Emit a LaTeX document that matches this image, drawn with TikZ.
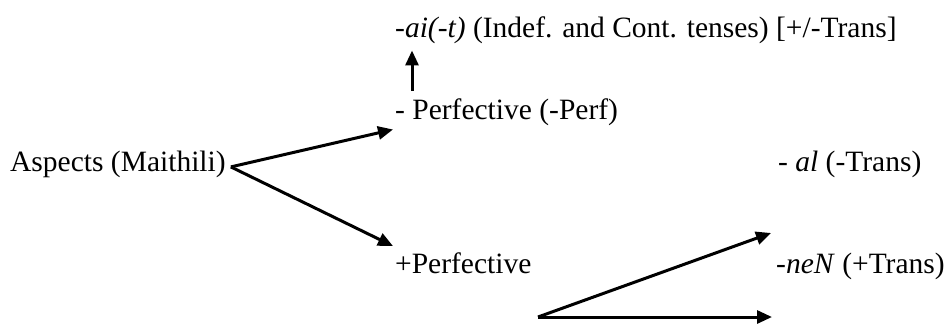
\documentclass[tikz,border=0pt]{standalone}
\usepackage{fontspec}
\setmainfont{Liberation Serif}
\usepackage{tikz}
\usetikzlibrary{arrows.meta}

\begin{document}
\begin{tikzpicture}[x=1bp,y=-1bp,
    lbl/.style={anchor=base west, inner sep=2bp, font=\fontsize{29.5bp}{35bp}\selectfont},
    arr/.style={line width=3bp, -{Triangle[length=15bp,width=13bp]}}]
  \useasboundingbox (0,0) rectangle (947,323);

  % Aspects and the two branches
  \node[lbl] (asp) at (8,171) {Aspects (Maithili)};
  \node[lbl] (perf) at (393,119) {- Perfective (-Perf)};
  \node[lbl] (plusperf) at (393,273) {+Perfective};
  \node[lbl] (ait) at (393,37) {\textit{-ai(-t)} (Indef. and Cont. tenses) [+/-Trans]};

  % Transitivity markers
  \node[lbl] (al) at (776,171) {- \textit{al} (-Trans)};
  \node[lbl] (nen) at (774,273) {\textit{-neN} (+Trans)};

  \draw[arr] ([xshift=3bp,yshift=-3bp]asp.east) -- ([yshift=-2bp]perf.south west);
  \draw[arr] ([xshift=3bp,yshift=-3bp]asp.east) -- ([yshift=4bp]plusperf.north west);
  \draw[arr] ([xshift=19bp,yshift=5bp]perf.north west) -- ([xshift=19bp,yshift=-5bp]ait.south west);

  % Fork below +Perfective
  \coordinate (fork) at (538,317);
  \coordinate (altip) at (771,233);
  \coordinate (nentip) at (772,317);
  \draw[arr] (fork) -- (altip);
  \draw[arr] (fork) -- (nentip);
\end{tikzpicture}
\end{document}
